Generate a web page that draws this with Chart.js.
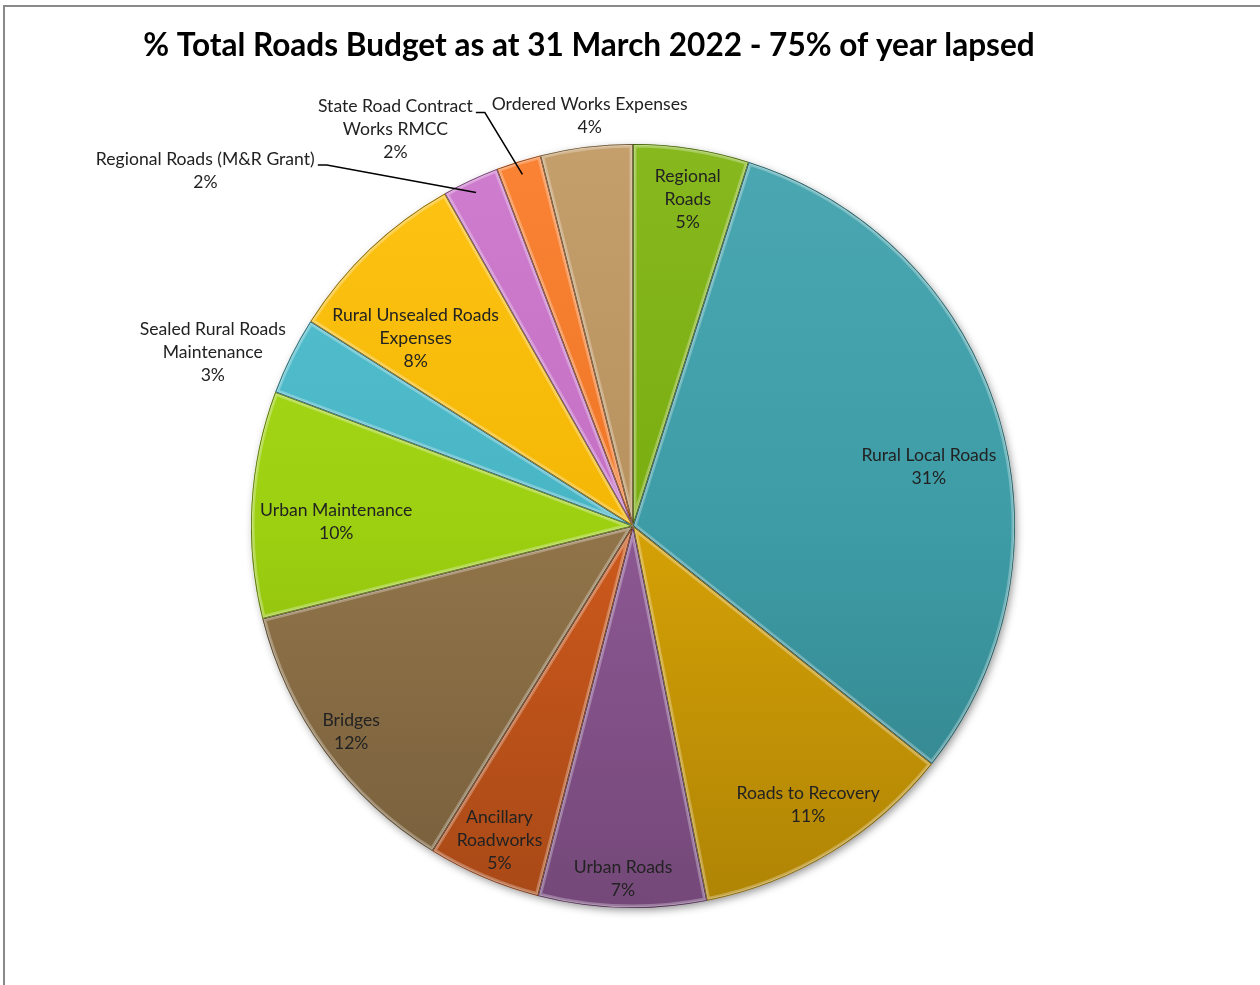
<!DOCTYPE html>
<html><head><meta charset="utf-8">
<script src="https://cdn.jsdelivr.net/npm/chart.js@4.4.0/dist/chart.umd.min.js"></script>
<style>
html,body{margin:0;padding:0;width:1260px;height:985px;overflow:hidden;background:#fff;}
#frame{position:absolute;left:3px;top:5px;width:1400px;height:1200px;border-left:2px solid #8a8a8a;border-top:2px solid #8a8a8a;}
#wrap{position:absolute;left:0;top:0;width:1260px;height:985px;}
</style></head><body>
<div id="frame"></div>
<div id="wrap"><canvas id="c" width="1260" height="985"></canvas></div>
<script>
const TITLE = '% Total Roads Budget as at 31 March 2022 - 75% of year lapsed';
const categories = ['Regional Roads','Rural Local Roads','Roads to Recovery','Urban Roads','Ancillary Roadworks','Bridges','Urban Maintenance','Sealed Rural Roads Maintenance','Rural Unsealed Roads Expenses','Regional Roads (M&R Grant)','State Road Contract Works RMCC','Ordered Works Expenses'];
const labelLines = [['Regional','Roads'],['Rural Local Roads'],['Roads to Recovery'],['Urban Roads'],['Ancillary','Roadworks'],['Bridges'],['Urban Maintenance'],['Sealed Rural Roads','Maintenance'],['Rural Unsealed Roads','Expenses'],['Regional Roads (M&R Grant)'],['State Road Contract','Works RMCC'],['Ordered Works Expenses']];
const shares = [4.9, 30.8, 11.2, 7.1, 4.8, 12.3, 9.6, 3.3, 7.8, 2.4, 1.9, 3.9];
const shareLabels = ['5%','31%','11%','7%','5%','12%','10%','3%','8%','2%','2%','4%'];
const colors = ['#7aad10','#3d9ca6','#d5a106','#8d5893','#cd591c','#917449','#9dd010','#48b5c5','#f4b705','#c470c4','#ef7626','#b8925e'];
// label placement: [fraction along slice angle, fraction of radius], leader flag
const placement = [[0.54,0.866],[0.55,0.79],[0.48,0.862],[0.5,0.924],[0.5,0.893],[0.5,0.914],[0.43,0.777],[0.16,1.19],[0.3,0.752],[-2.4,1.456],[-1.47,1.21],[0.57,1.079]];
const leader = [false,false,false,false,false,false,false,false,false,true,true,false];

function shade(hex, f){
  const n=parseInt(hex.slice(1),16);
  let r=(n>>16)&255,g=(n>>8)&255,b=n&255;
  const t=v=>Math.max(0,Math.min(255,Math.round(f>=1? v+(255-v)*(f-1)*0.6 + v*(f-1)*0.4 : v*f)));
  return 'rgb('+t(r)+','+t(g)+','+t(b)+')';
}

const ctx0=document.createElement('canvas').getContext('2d');
ctx0.font='100px Lato';
const labelSize=100*135/ctx0.measureText('Rural Local Roads').width;
ctx0.font='bold 100px Lato';
const titleSize=100*892/ctx0.measureText(TITLE).width;
const LH=23;

const pieShadow={id:'pieShadow',beforeDatasetsDraw(chart){
  const a=chart.getDatasetMeta(0).data[0]; if(!a) return;
  const c=chart.ctx; c.save();
  c.shadowColor='rgba(0,0,0,0.45)'; c.shadowBlur=9; c.shadowOffsetX=2; c.shadowOffsetY=3;
  c.beginPath(); c.arc(a.x,a.y,a.outerRadius-1,0,Math.PI*2); c.fillStyle='#666'; c.fill(); c.restore();
}};

const bevel={id:'bevel',afterDatasetsDraw(chart){
  const c=chart.ctx; const meta=chart.getDatasetMeta(0);
  meta.data.forEach((arc,i)=>{
    const p=arc.getProps(['x','y','startAngle','endAngle','outerRadius'],true);
    c.save();
    c.beginPath(); c.moveTo(p.x,p.y); c.arc(p.x,p.y,p.outerRadius,p.startAngle,p.endAngle); c.closePath();
    c.clip();
    c.strokeStyle='rgba(255,255,255,0.28)'; c.lineWidth=7; c.stroke();
    c.strokeStyle='rgba(255,255,255,0.22)'; c.lineWidth=3.5; c.stroke();
    c.strokeStyle=shade(colors[i],0.55); c.lineWidth=1.6; c.stroke();
    c.restore();
  });
}};

const labelsPlugin={id:'labelsPlugin',afterDraw(chart){
  const c=chart.ctx; const meta=chart.getDatasetMeta(0);
  c.save();
  c.font='bold '+titleSize+'px Lato'; c.fillStyle='#000'; c.textAlign='center'; c.textBaseline='alphabetic';
  c.fillText(TITLE,589,56);
  c.font=labelSize+'px Lato'; c.fillStyle='#222'; c.textBaseline='middle';
  meta.data.forEach((arc,i)=>{
    const p=arc.getProps(['x','y','startAngle','endAngle','outerRadius'],true);
    const [af,rf]=placement[i];
    const ang=p.startAngle+af*(p.endAngle-p.startAngle);
    const cx=p.x+Math.cos(ang)*p.outerRadius*rf, cy=p.y+Math.sin(ang)*p.outerRadius*rf;
    const lines=labelLines[i].concat([shareLabels[i]]);
    const y0=cy-(lines.length-1)*LH/2;
    lines.forEach((t,k)=>c.fillText(t,cx,y0+k*LH));
    if(leader[i]){
      const w=c.measureText(lines[0]).width;
      const sx=cx+w/2+3, sy=y0+6;
      const mid=(p.startAngle+p.endAngle)/2;
      const ex=p.x+Math.cos(mid)*p.outerRadius*0.965, ey=p.y+Math.sin(mid)*p.outerRadius*0.965;
      c.beginPath(); c.strokeStyle='#000'; c.lineWidth=1.5;
      c.moveTo(sx,sy); c.lineTo(sx+9,sy); c.lineTo(ex,ey); c.stroke();
    }
  });
  c.restore();
}};

new Chart(document.getElementById('c'),{
  type:'pie',
  data:{labels:categories,datasets:[{data:shares,
    backgroundColor:(cx)=>{
      const base=colors[cx.dataIndex]; const ca=cx.chart.chartArea;
      if(!ca) return base;
      const g=cx.chart.ctx.createLinearGradient(0,ca.top,0,ca.bottom);
      g.addColorStop(0,shade(base,1.1)); g.addColorStop(0.5,base); g.addColorStop(1,shade(base,0.82));
      return g;
    },
    borderColor:colors.map(c=>shade(c,0.6)),borderWidth:0}]},
  options:{responsive:false,animation:false,
    layout:{padding:{left:251,right:245,top:144,bottom:77}},
    plugins:{legend:{display:false},tooltip:{enabled:false},title:{display:false}}},
  plugins:[pieShadow,bevel,labelsPlugin]
});
</script></body></html>
